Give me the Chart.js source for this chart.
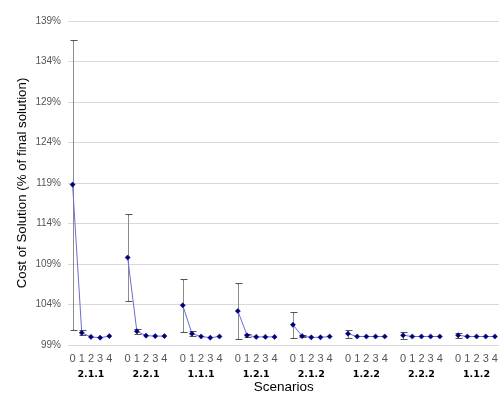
<!DOCTYPE html>
<html>
<head>
<meta charset="utf-8">
<script src="https://cdn.jsdelivr.net/npm/chart.js@4/dist/chart.umd.min.js"></script>
<style>
html,body{margin:0;padding:0;background:#fff;overflow:hidden;}
#wrap{width:505px;height:394px;}
</style>
</head>
<body>
<div id="wrap"><canvas id="c" width="505" height="394"></canvas></div>
<script>
// ---- data ----
const groups = ['2.1.1','2.2.1','1.1.1','1.2.1','2.1.2','1.2.2','2.2.2','1.1.2'];
const steps = ['0','1','2','3','4'];
const meanValues = [
  [118.8, 100.5, 100.0, 99.9, 100.1],
  [109.8, 100.7, 100.15, 100.1, 100.1],
  [103.9, 100.4, 100.05, 99.9, 100.05],
  [103.2, 100.2, 100.0, 100.0, 100.0],
  [101.5, 100.1, 99.95, 99.95, 100.05],
  [100.4, 100.05, 100.05, 100.05, 100.05],
  [100.2, 100.05, 100.05, 100.05, 100.05],
  [100.2, 100.05, 100.05, 100.05, 100.05]
];
const errValues = [
  [17.9, 0.3, 0, 0, 0],
  [5.4, 0.3, 0, 0, 0],
  [3.3, 0.3, 0, 0, 0],
  [3.4, 0.2, 0, 0, 0],
  [1.6, 0.1, 0, 0, 0],
  [0.5, 0, 0, 0, 0],
  [0.4, 0, 0, 0, 0],
  [0.3, 0, 0, 0, 0]
];
const yTicks = [99, 104, 109, 114, 119, 124, 129, 134, 139];

// ---- build flat category structure (gap slot between groups) ----
const stepLabels = [], groupLabels = [], values = [], errs = [];
groups.forEach((g, gi) => {
  steps.forEach((s, si) => {
    stepLabels.push(s);
    groupLabels.push(si === 2 ? g : '');
    values.push(meanValues[gi][si]);
    errs.push(errValues[gi][si]);
  });
  if (gi < groups.length - 1) {
    stepLabels.push(''); groupLabels.push(''); values.push(null); errs.push(0);
  }
});

const errorBars = {
  id: 'errorBars',
  beforeDatasetsDraw(chart) {
    const ctx = chart.ctx, xs = chart.scales.x, ys = chart.scales.y;
    ctx.save();
    ctx.strokeStyle = '#808080';
    ctx.lineWidth = 1;
    values.forEach((v, i) => {
      const e = errs[i];
      if (v === null || !e) return;
      const x = Math.round(xs.getPixelForValue(i)) + 0.5;
      const yt = Math.round(ys.getPixelForValue(v + e)) + 0.5;
      const yb = Math.round(ys.getPixelForValue(v - e)) + 0.5;
      ctx.beginPath();
      ctx.moveTo(x, yt); ctx.lineTo(x, yb);
      ctx.moveTo(x - 3, yt); ctx.lineTo(x + 4, yt);
      ctx.moveTo(x - 3, yb); ctx.lineTo(x + 4, yb);
      ctx.strokeStyle = '#555555';
      ctx.stroke();
      ctx.beginPath();
      ctx.moveTo(x, yt + 1); ctx.lineTo(x, yb - 1);
      ctx.strokeStyle = '#8c8c8c';
      ctx.stroke();
    });
    ctx.restore();
  }
};

new Chart(document.getElementById('c'), {
  type: 'line',
  data: {
    labels: stepLabels,
    datasets: [{
      data: values,
      borderColor: '#6b6bd6',
      borderWidth: 1,
      pointStyle: 'rectRot',
      pointRadius: 2.6,
      pointBackgroundColor: '#00007a',
      pointBorderColor: '#00007a',
      pointBorderWidth: 0.5,
      spanGaps: false,
      tension: 0
    }]
  },
  options: {
    responsive: false,
    animation: false,
    layout: { padding: { left: 0, right: 3.4, top: 21, bottom: 0 } },
    plugins: { legend: { display: false }, tooltip: { enabled: false } },
    scales: {
      y: {
        min: 99, max: 139,
        afterBuildTicks(s) { s.ticks = yTicks.map(v => ({ value: v })); },
        afterFit(s) { s.width = 68; },
        ticks: {
          callback: v => v + '%',
          color: '#555555',
          font: { family: 'Liberation Sans', size: 10 },
          padding: 7
        },
        grid: { color: '#d9d9d9', drawTicks: false },
        border: { display: false },
        title: {
          display: true,
          text: 'Cost of Solution (% of final solution)',
          color: '#000000',
          font: { family: 'Liberation Sans', size: 13.3, lineHeight: 1.2 },
          padding: { top: 14, bottom: 0 }
        }
      },
      x: {
        type: 'category',
        offset: true,
        afterFit(s) { s.height = 20; },
        ticks: {
          autoSkip: false, maxRotation: 0,
          color: '#555555',
          font: { family: 'Liberation Sans', size: 11 },
          padding: 7
        },
        grid: { display: false, drawTicks: false },
        border: { display: false }
      },
      x2: {
        type: 'category',
        position: 'bottom',
        labels: groupLabels,
        offset: true,
        weight: 1,
        afterFit(s) { s.height = 29; },
        ticks: {
          autoSkip: false, maxRotation: 0,
          color: '#000000',
          font: { family: 'DejaVu Sans', size: 9.5, weight: 'bold' },
          padding: 4
        },
        grid: { display: false, drawTicks: false },
        border: { display: false },
        title: {
          display: true,
          text: 'Scenarios',
          color: '#000000',
          font: { family: 'Liberation Sans', size: 13.5, lineHeight: 1.0 },
          padding: { top: 0, bottom: 0 }
        }
      }
    }
  },
  plugins: [errorBars]
});
</script>
</body>
</html>
